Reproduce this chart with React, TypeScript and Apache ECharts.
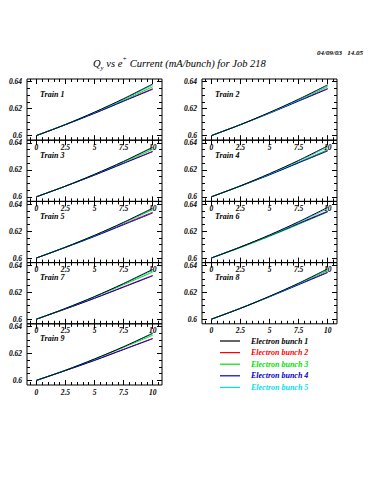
import React, { useEffect, useRef } from "react";
import * as echarts from "echarts";

// ---------- data ----------
const currents = [0, 2.5, 5, 7.5, 10];
const bunchNames = ["Electron bunch 1", "Electron bunch 2", "Electron bunch 3", "Electron bunch 4", "Electron bunch 5"];
const bunchColors = ["#000000", "#ff0000", "#00e000", "#0000c8", "#00e0ee"];
const trainNames = ["Train 1", "Train 2", "Train 3", "Train 4", "Train 5", "Train 6", "Train 7", "Train 8", "Train 9"];

// rows: bunch 1..5 ; columns: current 0, 2.5, 5, 7.5, 10
const train1 = [
  [0.6, 0.6082, 0.6174, 0.6274, 0.6383],
  [0.6, 0.6082, 0.6167, 0.6258, 0.6348],
  [0.6, 0.6081, 0.617, 0.6264, 0.6362],
  [0.6, 0.6081, 0.6165, 0.6255, 0.6344],
  [0.6, 0.6083, 0.6173, 0.627, 0.6375],
];
const train2 = [
  [0.6, 0.6081, 0.6172, 0.627, 0.6377],
  [0.6, 0.6082, 0.6168, 0.6259, 0.635],
  [0.6, 0.6081, 0.617, 0.6264, 0.6362],
  [0.6, 0.6081, 0.6166, 0.6256, 0.6346],
  [0.6, 0.6081, 0.6169, 0.6265, 0.6368],
];
const train3 = [
  [0.6, 0.6079, 0.6167, 0.6263, 0.6368],
  [0.6, 0.6079, 0.6162, 0.625, 0.6338],
  [0.6, 0.6079, 0.6165, 0.6257, 0.6352],
  [0.6, 0.6079, 0.6161, 0.6248, 0.6335],
  [0.6, 0.608, 0.6167, 0.6261, 0.6362],
];
const train4 = [
  [0.6, 0.6081, 0.6172, 0.627, 0.6378],
  [0.6, 0.6081, 0.6166, 0.6255, 0.6345],
  [0.6, 0.6079, 0.6165, 0.6256, 0.635],
  [0.6, 0.608, 0.6163, 0.6252, 0.634],
  [0.6, 0.6081, 0.6169, 0.6265, 0.6368],
];
const train5 = [
  [0.6, 0.608, 0.6168, 0.6265, 0.637],
  [0.6, 0.608, 0.6163, 0.6252, 0.634],
  [0.6, 0.6081, 0.6168, 0.6261, 0.6358],
  [0.6, 0.6078, 0.616, 0.6247, 0.6334],
  [0.6, 0.608, 0.6167, 0.6261, 0.6362],
];
const train6 = [
  [0.6, 0.6081, 0.6171, 0.6269, 0.6376],
  [0.6, 0.6082, 0.6167, 0.6258, 0.6348],
  [0.6, 0.6077, 0.6161, 0.625, 0.6342],
  [0.6, 0.6081, 0.6165, 0.6255, 0.6344],
  [0.6, 0.6081, 0.6168, 0.6264, 0.6366],
];
const train7 = [
  [0.6, 0.608, 0.6168, 0.6265, 0.637],
  [0.6, 0.6076, 0.6156, 0.6241, 0.6325],
  [0.6, 0.6079, 0.6165, 0.6256, 0.635],
  [0.6, 0.6076, 0.6155, 0.6238, 0.6322],
  [0.6, 0.608, 0.6167, 0.6261, 0.6362],
];
const train8 = [
  [0.6, 0.608, 0.617, 0.6267, 0.6374],
  [0.6, 0.6082, 0.6168, 0.6259, 0.635],
  [0.6, 0.6081, 0.6169, 0.6263, 0.636],
  [0.6, 0.6081, 0.6166, 0.6256, 0.6346],
  [0.6, 0.6081, 0.6168, 0.6264, 0.6366],
];
const train9 = [
  [0.6, 0.6075, 0.6159, 0.625, 0.635],
  [0.6, 0.6073, 0.615, 0.6231, 0.6312],
  [0.6, 0.6075, 0.6157, 0.6245, 0.6335],
  [0.6, 0.6073, 0.6148, 0.6229, 0.6309],
  [0.6, 0.6076, 0.6159, 0.6248, 0.6345],
];
const trains = [train1, train2, train3, train4, train5, train6, train7, train8, train9];

const xMajorTicks = [0, 2.5, 5, 7.5, 10];
const xMinorTicks = [-0.5, 0, 0.5, 1, 1.5, 2, 2.5, 3, 3.5, 4, 4.5, 5, 5.5, 6, 6.5, 7, 7.5, 8, 8.5, 9, 9.5, 10, 10.5];
const yMajorTicks = [0.6, 0.62, 0.64];
const yMinorTicks = [0.6, 0.605, 0.61, 0.615, 0.62, 0.625, 0.63, 0.635, 0.64];

const dateText = "04/09/03   14.05";

// ---------- layout ----------
const COL_LEFT = [27, 202];
const PANEL_W = 135;
const PANEL_TOP = 79;
const PANEL_H = 61.2;
const X_MIN = -0.8;
const X_MAX = 10.8;
const Y_MIN = 0.5966;
const Y_MAX = 0.642;
const SERIF = '"Liberation Serif", "DejaVu Serif", serif';

const axisFont = {
  fontFamily: SERIF,
  fontStyle: "italic" as const,
  fontWeight: "bold" as const,
  fontSize: 7.5,
  color: "#000",
};

function buildOption() {
  const grids: any[] = [];
  const xAxes: any[] = [];
  const yAxes: any[] = [];
  const series: any[] = [];
  const graphics: any[] = [];

  trains.forEach((train, g) => {
    const col = g % 2;
    const row = Math.floor(g / 2);
    const left = COL_LEFT[col];
    const top = PANEL_TOP + row * PANEL_H;
    grids.push({
      left,
      top,
      width: PANEL_W,
      height: PANEL_H,
      show: true,
      borderColor: "#000",
      borderWidth: 1,
      backgroundColor: "transparent",
      containLabel: false,
      outerBoundsMode: "none",
    });

    const xDef = (position: string, ticks: number[], length: number, labels: boolean) => ({
      type: "value",
      gridIndex: g,
      position,
      min: X_MIN,
      max: X_MAX,
      axisLine: { show: false, onZero: false },
      splitLine: { show: false },
      axisTick: { show: true, inside: true, length, customValues: ticks, lineStyle: { color: "#000", width: 1 } },
      axisLabel: labels
        ? { show: true, customValues: xMajorTicks, formatter: (v: number) => String(v), margin: 3, ...axisFont }
        : { show: false },
    });
    const yDef = (position: string, ticks: number[], length: number, labels: boolean) => ({
      type: "value",
      gridIndex: g,
      position,
      min: Y_MIN,
      max: Y_MAX,
      axisLine: { show: false, onZero: false },
      splitLine: { show: false },
      axisTick: { show: true, inside: true, length, customValues: ticks, lineStyle: { color: "#000", width: 1 } },
      axisLabel: labels
        ? {
            show: true,
            customValues: yMajorTicks,
            formatter: (v: number) => String(parseFloat(v.toFixed(3))),
            margin: 5,
            ...axisFont,
          }
        : { show: false },
    });

    xAxes.push(xDef("bottom", xMajorTicks, 5, true));
    xAxes.push(xDef("bottom", xMinorTicks, 3, false));
    xAxes.push(xDef("top", xMajorTicks, 5, false));
    xAxes.push(xDef("top", xMinorTicks, 3, false));
    yAxes.push(yDef("left", yMajorTicks, 5, true));
    yAxes.push(yDef("left", yMinorTicks, 3, false));
    yAxes.push(yDef("right", yMajorTicks, 5, false));
    yAxes.push(yDef("right", yMinorTicks, 3, false));

    train.forEach((values, b) => {
      series.push({
        type: "line",
        name: bunchNames[b],
        xAxisIndex: 4 * g,
        yAxisIndex: 4 * g,
        data: currents.map((c, k) => [c, values[k]]),
        symbol: "none",
        smooth: 0.3,
        lineStyle: { color: bunchColors[b], width: 1 },
        itemStyle: { color: bunchColors[b] },
        z: b === 0 ? 3 : 2,
      });
    });

    graphics.push({
      type: "text",
      left: left + 13,
      top: top + 11,
      style: {
        text: trainNames[g],
        font: `italic bold 8px ${SERIF}`,
        fill: "#000",
      },
    });
  });

  graphics.push({
    type: "text",
    right: 12,
    top: 49,
    style: { text: dateText, font: `italic bold 7px ${SERIF}`, fill: "#000" },
  });

  return {
    animation: false,
    backgroundColor: "#fff",
    title: {
      text: "{n|Q}{s|y}{n| vs e}{p|+}{n| Current (mA/bunch) for Job 218}",
      left: 93,
      top: 55,
      padding: 0,
      textStyle: {
        fontWeight: "normal",
        rich: {
          n: { fontFamily: SERIF, fontStyle: "italic", fontWeight: "normal", fontSize: 10.5, color: "#000", lineHeight: 16 },
          s: { fontFamily: SERIF, fontStyle: "italic", fontWeight: "normal", fontSize: 7, color: "#000", lineHeight: 9, verticalAlign: "bottom" },
          p: { fontFamily: SERIF, fontStyle: "italic", fontWeight: "normal", fontSize: 7, color: "#000", lineHeight: 9, verticalAlign: "top" },
        },
      },
    },
    legend: {
      orient: "vertical",
      left: 220,
      top: 336,
      padding: 0,
      icon: "rect",
      itemWidth: 20,
      itemHeight: 1.2,
      itemGap: 1.6,
      selectedMode: false,
      data: bunchNames.map((n, b) => ({
        name: n,
        itemStyle: { color: bunchColors[b] },
        textStyle: { color: bunchColors[b] },
      })),
      textStyle: { ...axisFont, fontSize: 8, lineHeight: 10, padding: [0, 0, 0, 6] },
    },
    grid: grids,
    xAxis: xAxes,
    yAxis: yAxes,
    series,
    graphic: graphics,
  };
}

export default function App() {
  const ref = useRef<HTMLDivElement>(null);
  useEffect(() => {
    if (!ref.current) return;
    const chart = echarts.init(ref.current, undefined, { renderer: "svg" });
    chart.setOption(buildOption() as any);
    return () => chart.dispose();
  }, []);
  return (
    <div
      ref={ref}
      style={{ position: "fixed", left: 0, top: 0, width: 375, height: 500, background: "#fff" }}
    />
  );
}
